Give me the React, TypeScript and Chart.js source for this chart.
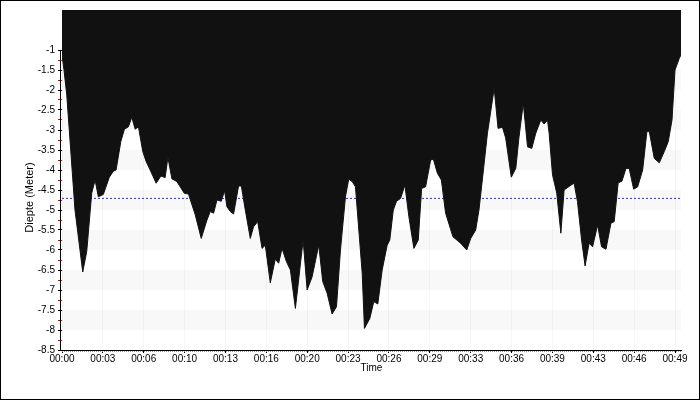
import React, { useEffect, useRef } from "react";
import { Chart, registerables } from "chart.js";

Chart.register(...registerables);

// Dive time in minutes
const TIME_MIN = [
  0.0, 0.16, 0.38, 0.64, 1.04, 1.66, 1.98, 2.38, 2.65, 2.91, 3.31, 3.79, 4.11, 4.33, 4.71, 5.0, 5.32, 5.59, 5.86, 6.12,
  6.47, 6.74, 7.06, 7.54, 7.92, 8.26, 8.48, 8.8, 9.2, 9.79, 10.13, 10.67, 11.15, 11.61, 11.87, 12.14, 12.41, 12.75, 13.02,
  13.21, 13.48, 13.74, 14.14, 14.36, 14.68, 15.08, 15.34, 15.67, 16.02, 16.28, 16.68, 17.08, 17.35, 17.62, 17.97, 18.29,
  18.69, 19.31, 19.63, 20.03, 20.56, 20.88, 21.23, 21.63, 21.98, 22.3, 22.7, 22.96, 23.24, 23.5, 23.77, 24.04, 24.22,
  24.65, 24.97, 25.29, 25.64, 26.04, 26.25, 26.53, 26.79, 27.11, 27.46, 27.78, 28.18, 28.53, 28.8, 29.12, 29.52, 29.74,
  30.06, 30.38, 30.72, 31.31, 31.92, 32.41, 32.73, 33.13, 33.39, 33.66, 34.07, 34.61, 34.92, 35.27, 35.53, 35.98, 36.34,
  36.6, 36.94, 37.28, 37.62, 37.94, 38.34, 38.61, 38.88, 39.01, 39.28, 39.62, 39.95, 40.21, 40.75, 41.01, 41.28, 41.61,
  41.89, 42.21, 42.49, 42.89, 43.21, 43.56, 43.96, 44.22, 44.54, 44.84, 45.16, 45.42, 45.78, 46.1, 46.5, 46.84, 47.03,
  47.43, 47.83, 48.23, 48.55, 48.85, 49.09, 49.43, 49.57,
];

// Depth in meters
const DEPTH_M = [
  -1.12, -1.5, -2.12, -3.25, -5.0, -6.55, -6.04, -4.58, -4.25, -4.67, -4.61, -4.18, -4.03, -4.0, -3.29, -2.98, -2.92,
  -2.68, -2.98, -2.92, -3.54, -3.79, -4.0, -4.33, -4.15, -4.19, -3.68, -4.22, -4.29, -4.58, -4.6, -5.12, -5.71, -5.25,
  -5.04, -5.08, -4.75, -4.78, -4.52, -4.92, -5.04, -5.1, -4.4, -4.4, -5.0, -5.71, -5.42, -5.29, -5.96, -5.88, -6.82,
  -6.23, -6.33, -5.96, -6.29, -6.5, -7.46, -5.75, -7.0, -6.67, -5.88, -6.79, -7.08, -7.6, -7.42, -6.0, -4.67, -4.23,
  -4.29, -4.42, -5.5, -6.58, -7.96, -7.71, -7.29, -7.35, -6.5, -5.88, -5.75, -5.0, -4.78, -4.71, -4.38, -5.17, -5.96,
  -5.75, -4.46, -4.42, -3.75, -3.73, -4.08, -4.25, -5.08, -5.67, -5.83, -6.0, -5.71, -5.5, -5.0, -4.25, -3.08, -1.96,
  -2.96, -2.93, -3.2, -4.18, -3.96, -3.17, -2.33, -3.42, -3.46, -3.08, -2.75, -2.85, -2.75, -3.08, -4.12, -4.58, -5.58,
  -4.5, -4.38, -4.33, -4.79, -5.75, -6.4, -5.83, -5.92, -5.38, -5.92, -5.98, -5.33, -5.29, -4.32, -4.28, -3.96, -3.96,
  -4.48, -4.42, -4.0, -3.04, -3.04, -3.71, -3.82, -3.54, -3.29, -2.75, -1.5, -1.21, -1.12,
];

const AVG_DEPTH = -4.71;

const X_TICK_LABELS = [
  "00:00", "00:03", "00:06", "00:10", "00:13", "00:16", "00:20", "00:23",
  "00:26", "00:29", "00:33", "00:36", "00:39", "00:43", "00:46", "00:49",
];
const X_TICK_STEP = 3.2727;

const Y_MIN = -8.5;
const Y_MAX = 0;
const Y_LABEL_TOP = -1;

const X_TITLE = "Time";
const Y_TITLE = "Diepte (Meter)";

const FONT = '"Liberation Sans", Arial, sans-serif';

export default function App() {
  const canvasRef = useRef<HTMLCanvasElement | null>(null);

  useEffect(() => {
    document.body.style.margin = "0";
    const canvas = canvasRef.current;
    if (!canvas) return;

    const decorPlugin = {
      id: "decor",
      beforeDraw(chart: any) {
        const { ctx, chartArea } = chart;
        const y = chart.scales.y;
        ctx.save();
        ctx.fillStyle = "#f8f8f8";
        for (let k = 0; k < 8; k++) {
          const top = y.getPixelForValue(-(k + 0.5));
          const bot = y.getPixelForValue(-(k + 1));
          ctx.fillRect(chartArea.left, top, chartArea.right - chartArea.left, bot - top);
        }
        ctx.restore();
      },
      afterDraw(chart: any) {
        const { ctx, chartArea } = chart;
        const y = chart.scales.y;
        ctx.save();
        // y axis line from first labelled tick downward
        ctx.strokeStyle = "#000";
        ctx.lineWidth = 1;
        ctx.beginPath();
        const ax = chartArea.left - 1.5;
        ctx.moveTo(ax, y.getPixelForValue(Y_LABEL_TOP));
        ctx.lineTo(ax, chartArea.bottom);
        ctx.stroke();
        // minor dotted ticks under x axis
        ctx.strokeStyle = "#9a9a9a";
        ctx.setLineDash([1, 1]);
        ctx.beginPath();
        ctx.moveTo(chartArea.left, chartArea.bottom + 1.5);
        ctx.lineTo(chartArea.right, chartArea.bottom + 1.5);
        ctx.stroke();
        ctx.setLineDash([]);
        // y title
        ctx.fillStyle = "#000";
        ctx.font = `11px ${FONT}`;
        ctx.textAlign = "center";
        ctx.textBaseline = "middle";
        ctx.translate(29, 196.5);
        ctx.rotate(-Math.PI / 2);
        ctx.fillText(Y_TITLE, 0, 0);
        ctx.restore();
      },
    };

    const profile = TIME_MIN.map((t, i) => ({ x: t, y: DEPTH_M[i] }));
    const tEnd = TIME_MIN[TIME_MIN.length - 1];

    const chart = new Chart(canvas, {
      type: "line",
      data: {
        datasets: [
          {
            label: "Diepte",
            data: profile,
            borderColor: "#111111",
            backgroundColor: "#111111",
            borderWidth: 1,
            pointRadius: 0,
            tension: 0,
            fill: "end",
          },
          {
            label: "Gemiddelde",
            data: [
              { x: 0, y: AVG_DEPTH },
              { x: tEnd, y: AVG_DEPTH },
            ],
            borderColor: "#2a2aff",
            borderWidth: 1,
            borderDash: [2, 2],
            pointRadius: 0,
            fill: false,
          },
        ],
      },
      options: {
        animation: false,
        responsive: false,
        maintainAspectRatio: false,
        layout: { padding: { top: 9, right: 18, left: 0, bottom: 0 } },
        plugins: {
          legend: { display: false },
          tooltip: { enabled: false },
        },
        scales: {
          x: {
            type: "linear",
            min: 0,
            max: tEnd,
            afterFit(scale: any) {
              scale.height = 49;
            },
            afterBuildTicks(scale: any) {
              scale.ticks = X_TICK_LABELS.map((_, i) => ({ value: i * X_TICK_STEP }));
            },
            ticks: {
              autoSkip: false,
              maxRotation: 0,
              padding: 0,
              color: "#000",
              font: { family: FONT, size: 10 },
              callback: (_v: any, index: number) => X_TICK_LABELS[index],
            },
            grid: {
              color: "rgba(0,0,0,0.035)",
              tickColor: "#000",
              tickLength: 3,
              drawOnChartArea: true,
            },
            border: { display: true, color: "#000", width: 1 },
            title: {
              display: true,
              text: X_TITLE,
              color: "#000",
              font: { family: FONT, size: 10 },
              padding: { top: 0, bottom: 25 },
            },
          },
          y: {
            type: "linear",
            min: Y_MIN,
            max: Y_MAX,
            afterFit(scale: any) {
              scale.width = 61;
            },
            ticks: {
              stepSize: 0.25,
              autoSkip: false,
              padding: 3,
              color: "#000",
              font: { family: FONT, size: 10 },
              callback: (v: any) => {
                const n = Number(v);
                const isHalf = Math.abs(n * 2 - Math.round(n * 2)) < 1e-6;
                return n <= Y_LABEL_TOP + 1e-9 && isHalf ? String(n) : "";
              },
            },
            grid: {
              drawOnChartArea: false,
              drawTicks: true,
              tickLength: 4,
              tickColor: (ctx: any) => {
                const n = ctx.tick ? ctx.tick.value : 0;
                if (n > Y_LABEL_TOP + 1e-9) return "rgba(0,0,0,0)";
                const isHalf = Math.abs(n * 2 - Math.round(n * 2)) < 1e-6;
                return isHalf ? "#000" : "#ff0000";
              },
            },
            border: { display: false },
          },
        },
      },
      plugins: [decorPlugin],
    });

    return () => chart.destroy();
  }, []);

  return (
    <div
      style={{
        width: 700,
        height: 400,
        border: "1px solid #000",
        boxSizing: "border-box",
        background: "#fff",
      }}
    >
      <canvas ref={canvasRef} width={698} height={398} style={{ display: "block" }} />
    </div>
  );
}
